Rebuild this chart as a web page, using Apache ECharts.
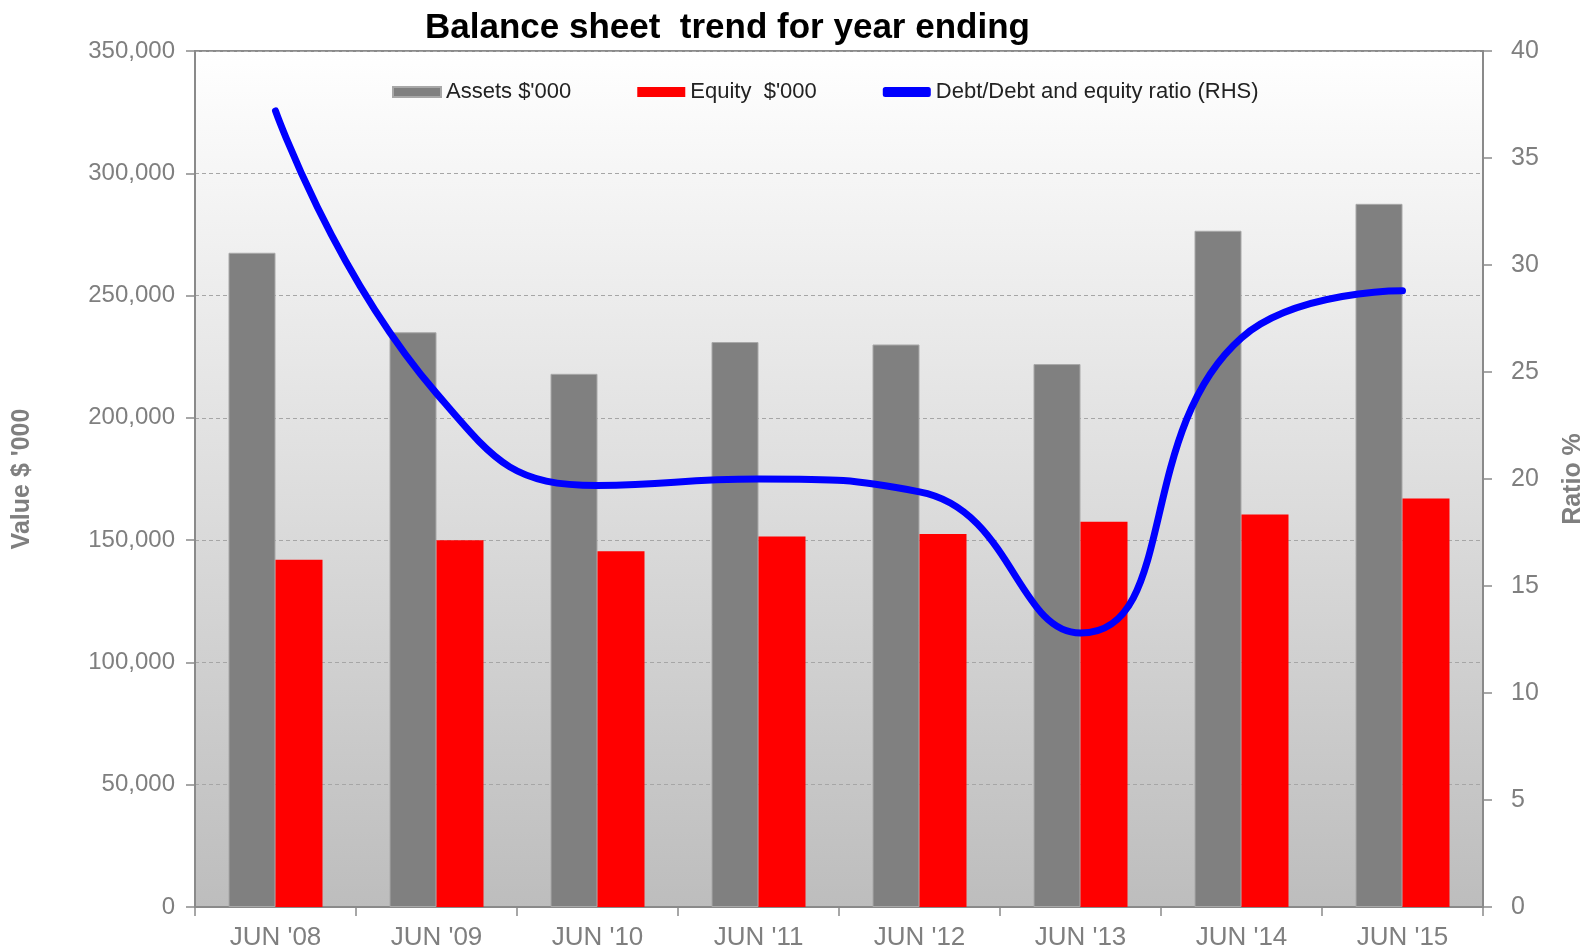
<!DOCTYPE html>
<html>
<head>
<meta charset="utf-8">
<script src="https://cdn.jsdelivr.net/npm/echarts@6/dist/echarts.min.js"></script>
<style>
    html, body { margin: 0; padding: 0; background: #fff; }
    #chart { width: 1585px; height: 950px; }
</style>
</head>
<body>
<div id="chart"></div>
<script>
const years = ["JUN '08", "JUN '09", "JUN '10", "JUN '11", "JUN '12", "JUN '13", "JUN '14", "JUN '15"];
const assets = [267500, 235000, 218000, 231000, 230000, 222000, 276500, 287500];
const equity = [142000, 150000, 145500, 151500, 152500, 157500, 160500, 167000];
const ratio = [37.2, 24.0, 19.7, 20.0, 19.4, 12.8, 26.6, 28.8];

const seriesNames = ["Assets $'000", "Equity  $'000", "Debt/Debt and equity ratio (RHS)"];
const seriesColors = ["#808080", "#ff0000", "#0000ff"];

const axisGray = "#8a8a8a";
const labelGray = "#7f7f7f";
const narrow = "'Liberation Sans Narrow', 'Arial Narrow', 'Liberation Sans', Arial, sans-serif";
const plain = "'Liberation Sans', Arial, sans-serif";

const chart = echarts.init(document.getElementById("chart"));

const option = {
    animation: false,
    backgroundColor: "#ffffff",
    title: {
        text: "Balance sheet  trend for year ending",
        left: 420,
        top: 6,
        textStyle: {
            fontFamily: narrow,
            fontSize: 35,
            fontWeight: "bold",
            color: "#000",
        },
    },
    legend: {
        data: [
            { name: seriesNames[0], icon: "rect" },
            { name: seriesNames[1], icon: "rect" },
            { name: seriesNames[2], icon: "roundRect" },
        ],
        left: 387,
        top: 76,
        itemWidth: 48,
        itemHeight: 10,
        itemGap: 66,
        textStyle: {
            fontFamily: narrow,
            fontSize: 22,
            color: "#222",
        },
    },
    grid: {
        left: 195,
        right: 102,
        top: 51,
        bottom: 43,
        outerBoundsMode: "none",
        containLabel: false,
        show: true,
        borderColor: axisGray,
        borderWidth: 2,
        backgroundColor: new echarts.graphic.LinearGradient(0, 0, 0, 1, [
            { offset: 0, color: "#ffffff" },
            { offset: 1, color: "#bdbdbd" },
        ]),
    },
    xAxis: {
        type: "category",
        data: years,
        axisLine: { lineStyle: { color: axisGray, width: 2 } },
        axisTick: { show: true, length: 9, lineStyle: { color: axisGray, width: 1.5 } },
        axisLabel: {
            fontFamily: plain,
            fontSize: 26,
            color: labelGray,
            margin: 18,
        },
    },
    yAxis: [
        {
            type: "value",
            min: 0,
            max: 350000,
            interval: 50000,
            name: "Value $ '000",
            nameLocation: "middle",
            nameGap: 160,
            nameTextStyle: {
                fontFamily: plain,
                fontSize: 25,
                fontWeight: "bold",
                color: labelGray,
            },
            axisLine: { show: true, lineStyle: { color: axisGray, width: 2 } },
            axisTick: { show: true, length: 9, lineStyle: { color: axisGray, width: 1.5 } },
            axisLabel: {
                fontFamily: plain,
                fontSize: 24,
                color: labelGray,
                margin: 20,
                formatter: (v) => v.toLocaleString("en-US"),
            },
            splitLine: {
                show: true,
                lineStyle: { color: "#a6a6a6", type: [4, 3], width: 1 },
            },
        },
        {
            type: "value",
            min: 0,
            max: 40,
            interval: 5,
            name: "Ratio %",
            nameLocation: "middle",
            nameGap: 78,
            nameTextStyle: {
                fontFamily: plain,
                fontSize: 25,
                fontWeight: "bold",
                color: labelGray,
            },
            axisLine: { show: true, lineStyle: { color: axisGray, width: 2 } },
            axisTick: { show: true, length: 9, lineStyle: { color: axisGray, width: 1.5 } },
            axisLabel: {
                fontFamily: plain,
                fontSize: 25,
                color: labelGray,
                margin: 28,
            },
            splitLine: { show: false },
        },
    ],
    series: [
        {
            name: seriesNames[0],
            type: "bar",
            data: assets,
            barWidth: 47,
            barGap: "0%",
            itemStyle: { color: seriesColors[0], borderColor: "#a8a8a8", borderWidth: 1 },
        },
        {
            name: seriesNames[1],
            type: "bar",
            data: equity,
            barWidth: 47,
            barGap: "0%",
            itemStyle: { color: seriesColors[1] },
        },
        {
            name: seriesNames[2],
            type: "line",
            yAxisIndex: 1,
            data: ratio,
            smooth: 0.5,
            symbol: "none",
            lineStyle: { color: seriesColors[2], width: 7, cap: "round", join: "round" },
            itemStyle: { color: seriesColors[2] },
            z: 5,
        },
    ],
};

chart.setOption(option);
window.addEventListener("resize", () => chart.resize());
</script>
</body>
</html>
